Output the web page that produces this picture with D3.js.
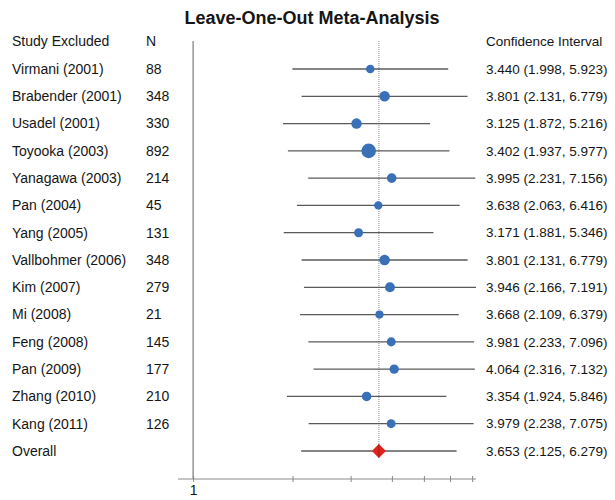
<!DOCTYPE html>
<html>
<head>
<meta charset="utf-8">
<script src="https://cdn.jsdelivr.net/npm/d3@7"></script>
<style>
  html, body { margin: 0; padding: 0; background: #fff; }
  svg { display: block; font-family: "Liberation Sans", Arial, Helvetica, sans-serif; }
</style>
</head>
<body>
<svg id="chart" width="615" height="500"></svg>
<script>
// Leave-one-out forest plot data
const studies = ["Virmani (2001)", "Brabender (2001)", "Usadel (2001)", "Toyooka (2003)",
  "Yanagawa (2003)", "Pan (2004)", "Yang (2005)", "Vallbohmer (2006)", "Kim (2007)",
  "Mi (2008)", "Feng (2008)", "Pan (2009)", "Zhang (2010)", "Kang (2011)"];
const sampleN = [88, 348, 330, 892, 214, 45, 131, 348, 279, 21, 145, 177, 210, 126];
const estimates = [3.440, 3.801, 3.125, 3.402, 3.995, 3.638, 3.171, 3.801, 3.946, 3.668, 3.981, 4.064, 3.354, 3.979];
const lowerCI = [1.998, 2.131, 1.872, 1.937, 2.231, 2.063, 1.881, 2.131, 2.166, 2.109, 2.233, 2.316, 1.924, 2.238];
const upperCI = [5.923, 6.779, 5.216, 5.977, 7.156, 6.416, 5.346, 6.779, 7.191, 6.379, 7.096, 7.132, 5.846, 7.075];
const overall = { label: "Overall", est: 3.653, lo: 2.125, hi: 6.279 };
const axisTicks = [1, 2, 3, 4, 5, 6, 7];
const axisTickLabels = ["1"];

const fmt = d3.format(".3f");
const rows = studies.map((s, i) => ({
  label: s, n: sampleN[i], est: estimates[i], lo: lowerCI[i], hi: upperCI[i]
}));
const rowLabels = studies.concat([overall.label]);

const svg = d3.select("#chart");

const x = d3.scaleLog().domain([0.9, 7.191]).range([178, 476]);
const y = d3.scalePoint().domain(rowLabels).range([69, 451]);
const r = d3.scaleLinear().domain([0, 892]).range([4, 7.3]);

const headerY = 41;
const axisY = 479;
const textColor = "#151515";
const labelSize = 14;
const ciSize = 13.5;

// Title
svg.append("text")
  .attr("x", 312).attr("y", 24)
  .attr("text-anchor", "middle")
  .attr("font-size", 18).attr("font-weight", "bold")
  .attr("fill", textColor)
  .text("Leave-One-Out Meta-Analysis");

// Column headers
const headers = [
  { t: "Study Excluded", x: 12, s: labelSize },
  { t: "N", x: 146, s: labelSize },
  { t: "Confidence Interval", x: 486, s: ciSize }
];
svg.selectAll("text.header").data(headers).join("text")
  .attr("class", "header")
  .attr("x", d => d.x).attr("y", headerY)
  .attr("dy", "0.35em")
  .attr("font-size", d => d.s)
  .attr("fill", textColor)
  .text(d => d.t);

// Reference line at 1 (no effect)
svg.append("line")
  .attr("x1", x(1)).attr("x2", x(1))
  .attr("y1", headerY).attr("y2", axisY)
  .attr("stroke", "#7a7a7a").attr("stroke-width", 1.2);

// Reference line at the overall estimate
svg.append("line")
  .attr("x1", x(overall.est)).attr("x2", x(overall.est))
  .attr("y1", headerY).attr("y2", y(overall.label))
  .attr("stroke", "#8a8a8a").attr("stroke-width", 1)
  .attr("stroke-dasharray", "1,1");

// Bottom axis
const axis = d3.axisBottom(x)
  .tickValues(axisTicks)
  .tickSize(3)
  .tickFormat(d => axisTickLabels.includes(String(d)) ? String(d) : "");
const ax = svg.append("g")
  .attr("transform", `translate(0,${axisY})`)
  .call(axis);
ax.select(".domain").remove();
ax.append("line")
  .attr("x1", 178).attr("x2", 476)
  .attr("stroke", "#8a8a8a").attr("stroke-width", 1);
ax.selectAll(".tick line")
  .attr("y1", -3).attr("y2", 3)
  .attr("stroke", "#8a8a8a");
ax.selectAll(".tick text")
  .attr("y", 6)
  .attr("font-size", 14)
  .attr("font-family", "'Liberation Sans', Arial, sans-serif")
  .attr("fill", textColor);

// Study rows
const g = svg.append("g");
g.selectAll("text.study").data(rows).join("text")
  .attr("class", "study")
  .attr("x", 12).attr("y", d => y(d.label)).attr("dy", "0.35em")
  .attr("font-size", labelSize).attr("fill", textColor)
  .text(d => d.label);

g.selectAll("text.n").data(rows).join("text")
  .attr("class", "n")
  .attr("x", 146).attr("y", d => y(d.label)).attr("dy", "0.35em")
  .attr("font-size", labelSize).attr("fill", textColor)
  .text(d => d.n);

g.selectAll("text.ci").data(rows).join("text")
  .attr("class", "ci")
  .attr("x", 486).attr("y", d => y(d.label)).attr("dy", "0.35em")
  .attr("font-size", ciSize).attr("fill", textColor)
  .text(d => `${fmt(d.est)} (${fmt(d.lo)}, ${fmt(d.hi)})`);

g.selectAll("line.ci").data(rows).join("line")
  .attr("class", "ci")
  .attr("x1", d => x(d.lo)).attr("x2", d => x(d.hi))
  .attr("y1", d => y(d.label)).attr("y2", d => y(d.label))
  .attr("stroke", "#5a5a5a").attr("stroke-width", 1.3);

g.selectAll("circle.est").data(rows).join("circle")
  .attr("class", "est")
  .attr("cx", d => x(d.est)).attr("cy", d => y(d.label))
  .attr("r", d => r(d.n))
  .attr("fill", "#3a70b8");

// Overall row
const oy = y(overall.label);
svg.append("text")
  .attr("x", 12).attr("y", oy).attr("dy", "0.35em")
  .attr("font-size", labelSize).attr("fill", textColor)
  .text(overall.label);
svg.append("text")
  .attr("x", 486).attr("y", oy).attr("dy", "0.35em")
  .attr("font-size", ciSize).attr("fill", textColor)
  .text(`${fmt(overall.est)} (${fmt(overall.lo)}, ${fmt(overall.hi)})`);
svg.append("line")
  .attr("x1", x(overall.lo)).attr("x2", x(overall.hi))
  .attr("y1", oy).attr("y2", oy)
  .attr("stroke", "#5a5a5a").attr("stroke-width", 1.3);
const ox = x(overall.est), dh = 7;
svg.append("path")
  .attr("d", `M${ox},${oy - dh}L${ox + dh},${oy}L${ox},${oy + dh}L${ox - dh},${oy}Z`)
  .attr("fill", "#e0231c");
svg.append("line")
  .attr("x1", ox).attr("x2", ox).attr("y1", oy - dh).attr("y2", oy + dh)
  .attr("stroke", "#7a1a14").attr("stroke-width", 0.6);
</script>
</body>
</html>
